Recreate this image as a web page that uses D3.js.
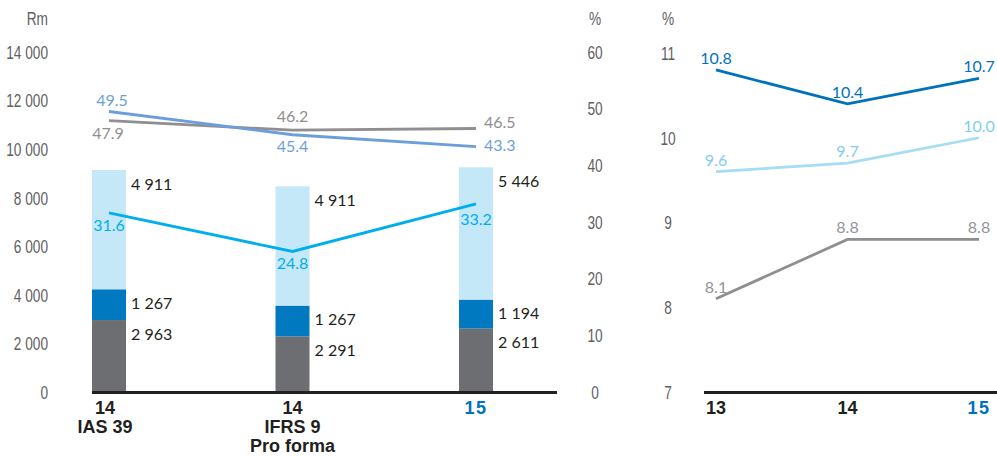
<!DOCTYPE html>
<html>
<head>
<meta charset="utf-8">
<script src="https://cdn.jsdelivr.net/npm/d3@7"></script>
<style>
  html, body { margin: 0; padding: 0; background: #fff; }
  svg { display: block; }
  .tick-lbl { font-family: "Liberation Sans", Arial, sans-serif; font-size: 18px; fill: #5f6062; }
  .val { font-family: Lato, "Open Sans", sans-serif; font-size: 16px; }
  .cat { font-family: "Liberation Sans", Arial, sans-serif; font-weight: bold; font-size: 18px; }
</style>
</head>
<body>
<svg id="chart" width="997" height="457"></svg>
<script>
// Left panel: stacked bars (Rm) with ratio lines (%)
const categories = ["14|IAS 39", "14|IFRS 9|Pro forma", "15"];
const barBottom = [2963, 2291, 2611];
const barMiddle = [1267, 1267, 1194];
const barTop = [4911, 4911, 5446];
const lineGrey = [47.9, 46.2, 46.5];
const lineSteel = [49.5, 45.4, 43.3];
const lineCyan = [31.6, 24.8, 33.2];
const rmTicks = [0, 2000, 4000, 6000, 8000, 10000, 12000, 14000];
const pctTicks = [0, 10, 20, 30, 40, 50, 60];

// Right panel: three ratio lines (%)
const years = ["13", "14", "15"];
const ratioA = [10.8, 10.4, 10.7];
const ratioB = [9.6, 9.7, 10.0];
const ratioC = [8.1, 8.8, 8.8];
const ratioTicks = [7, 8, 9, 10, 11];

const svg = d3.select("#chart");
const fmt = d3.formatLocale({ decimal: ".", thousands: " ", grouping: [3], currency: ["", ""] }).format(",");
const NARROW = "scale(0.76,1)";

const C = {
  barGrey: "#6d6e71", barBlue: "#0079c1", barLight: "#c5e8f8",
  grey: "#8f8f91", steel: "#6c9fd9", cyan: "#00aeef",
  dark: "#0072bc", pale: "#a5dcf6", axis: "#231f20", hi: "#0072bc"
};

function styleAxis(g, anchor) {
  g.select(".domain").remove();
  g.attr("font-family", null).attr("font-size", null);
  g.selectAll("text").attr("class", "tick-lbl").attr("fill", null)
    .attr("x", 0).attr("text-anchor", anchor).attr("dy", "0.35em")
    .attr("transform", NARROW);
}
function unitLabel(xPos, anchor, txt) {
  svg.append("text").attr("class", "tick-lbl")
    .attr("transform", `translate(${xPos},25) ${NARROW}`)
    .attr("text-anchor", anchor).text(txt);
}

// ---------- left panel ----------
const x = d3.scalePoint().domain(categories).range([109, 476]);
const yRm = d3.scaleLinear().domain([0, 14000]).range([392, 52]);
const yPct = d3.scaleLinear().domain([0, 60]).range([392, 52]);
const barW = 34;

styleAxis(svg.append("g").attr("transform", "translate(48,0)")
  .call(d3.axisLeft(yRm).tickValues(rmTicks).tickSize(0).tickPadding(0).tickFormat(fmt)), "end");
styleAxis(svg.append("g").attr("transform", "translate(595,0)")
  .call(d3.axisRight(yPct).tickValues(pctTicks).tickSize(0).tickPadding(0).tickFormat(d3.format("d"))), "middle");
unitLabel(48, "end", "Rm");
unitLabel(595, "middle", "%");

// stacked bars
const stackData = categories.map((c, i) => ({ cat: c, bottom: barBottom[i], middle: barMiddle[i], top: barTop[i] }));
const stacked = d3.stack().keys(["bottom", "middle", "top"])(stackData);
const segColor = { bottom: C.barGrey, middle: C.barBlue, top: C.barLight };

stacked.forEach(layer => {
  svg.append("g").selectAll("rect").data(layer).join("rect")
    .attr("x", d => x(d.data.cat) - barW / 2)
    .attr("width", barW)
    .attr("y", d => yRm(d[1]))
    .attr("height", d => yRm(d[0]) - yRm(d[1]))
    .attr("fill", segColor[layer.key]);
  svg.append("g").selectAll("text").data(layer).join("text")
    .attr("class", "val")
    .attr("x", d => x(d.data.cat) + barW / 2 + 5)
    .attr("y", d => yRm(d[1]) + 14)
    .attr("dy", "0.35em")
    .attr("fill", "#231f20")
    .text(d => fmt(d.data[layer.key]));
});

// ratio lines
const line = d3.line().x(d => x(d.cat)).y(d => yPct(d.v));
function drawLine(vals, color) {
  const pts = categories.map((c, i) => ({ cat: c, v: vals[i] }));
  svg.append("path").datum(pts).attr("d", line)
    .attr("fill", "none").attr("stroke", color).attr("stroke-width", 2.8);
  return pts;
}
const ptsGrey = drawLine(lineGrey, C.grey);
const ptsSteel = drawLine(lineSteel, C.steel);
const ptsCyan = drawLine(lineCyan, C.cyan);

function label(pts, color, place) {
  svg.append("g").selectAll("text").data(pts).join("text")
    .attr("class", "val").attr("fill", color)
    .attr("dy", "0.35em")
    .each(function (d, i) {
      const p = place(d, i);
      d3.select(this).attr("x", p[0]).attr("y", p[1]).attr("text-anchor", p[2]);
    })
    .text(d => d.v.toFixed(1));
}
label(ptsSteel, C.steel, (d, i) => i === 2 ? [x(d.cat) + 8, yPct(d.v) - 1, "start"]
  : i === 0 ? [x(d.cat) + 3, yPct(d.v) - 11, "middle"] : [x(d.cat), yPct(d.v) + 12, "middle"]);
label(ptsGrey, C.grey, (d, i) => i === 2 ? [x(d.cat) + 8, yPct(d.v) - 6, "start"]
  : i === 0 ? [x(d.cat) - 1, yPct(d.v) + 13, "middle"] : [x(d.cat), yPct(d.v) - 14, "middle"]);
label(ptsCyan, C.cyan, (d, i) => [x(d.cat), yPct(d.v) + (i === 2 ? 16 : 12), "middle"]);

// baseline
svg.append("line").attr("x1", 92).attr("x2", 557).attr("y1", 392.5).attr("y2", 392.5)
  .attr("stroke", C.axis).attr("stroke-width", 3);

// category labels
categories.forEach((c, i) => {
  const parts = c.split("|");
  const cx = x(c) - (i === 0 ? 4 : 0);
  const t = svg.append("text").attr("class", "cat").attr("text-anchor", "middle")
    .attr("x", cx).attr("y", 414)
    .style("fill", c === "15" ? C.hi : "#231f20");
  if (c === "15") t.style("letter-spacing", "1.5px");
  parts.forEach((p, k) => {
    t.append("tspan").attr("x", cx).attr("dy", k === 0 ? 0 : 19).text(p);
  });
});

// ---------- right panel ----------
const x2 = d3.scalePoint().domain(years).range([716, 979]);
const yR = d3.scaleLinear().domain([7, 11]).range([392, 53]);

styleAxis(svg.append("g").attr("transform", "translate(668,0)")
  .call(d3.axisRight(yR).tickValues(ratioTicks).tickSize(0).tickPadding(0).tickFormat(d3.format("d"))), "middle");
unitLabel(668, "middle", "%");

const line2 = d3.line().x(d => x2(d.yr)).y(d => yR(d.v));
[[ratioA, C.dark], [ratioB, C.pale], [ratioC, C.grey]].forEach(([vals, color]) => {
  const pts = years.map((yr, i) => ({ yr, v: vals[i] }));
  svg.append("path").datum(pts).attr("d", line2)
    .attr("fill", "none").attr("stroke", color).attr("stroke-width", 2.8);
  const lblColor = color === C.pale ? "#7fcdf0" : color === C.grey ? "#939598" : color;
  svg.append("g").selectAll("text").data(pts).join("text")
    .attr("class", "val").attr("fill", lblColor).attr("text-anchor", "middle")
    .attr("x", d => x2(d.yr)).attr("y", d => yR(d.v) - 6)
    .text(d => d.v.toFixed(1));
});

svg.append("line").attr("x1", 704).attr("x2", 997).attr("y1", 392.5).attr("y2", 392.5)
  .attr("stroke", C.axis).attr("stroke-width", 3);

years.forEach(yr => {
  const t = svg.append("text").attr("class", "cat").attr("text-anchor", "middle")
    .attr("x", x2(yr)).attr("y", 414).text(yr)
    .style("fill", yr === "15" ? C.hi : "#231f20");
  if (yr === "15") t.style("letter-spacing", "1.5px");
});
</script>
</body>
</html>
